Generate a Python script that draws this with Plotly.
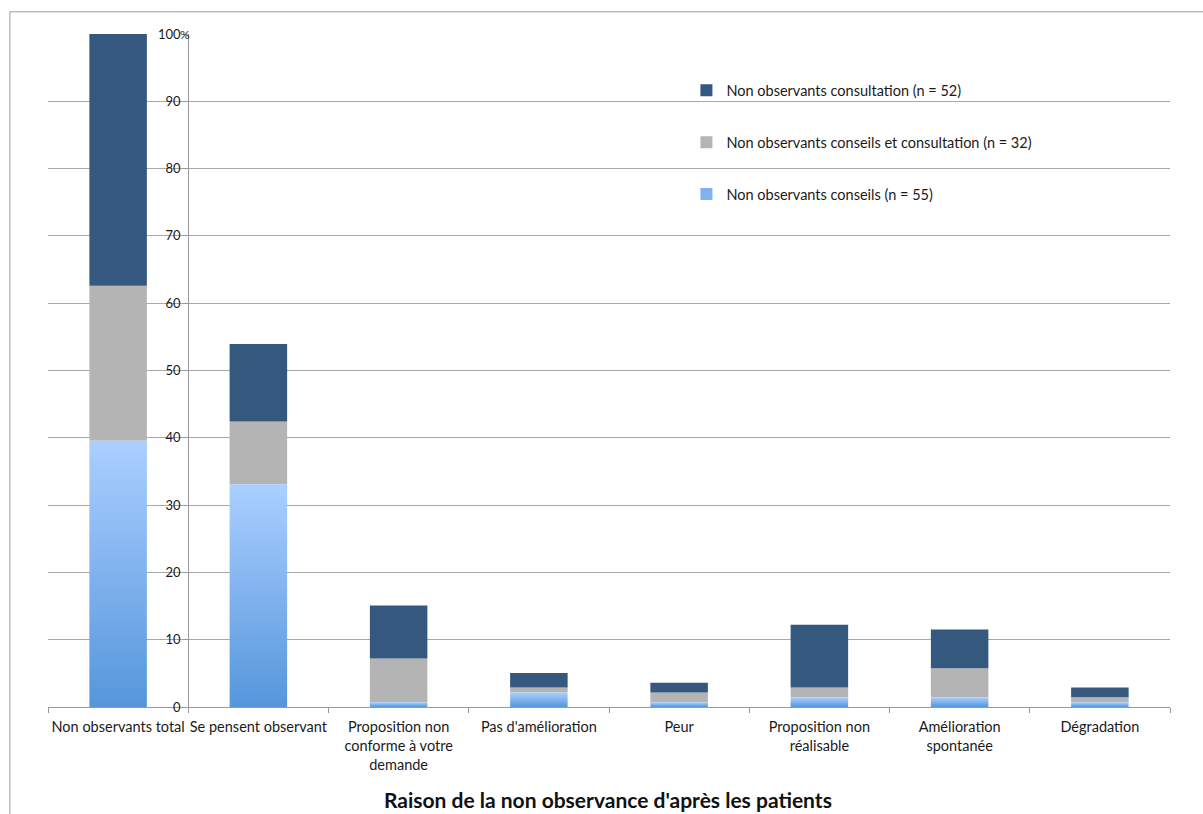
import plotly.graph_objects as go

# Reasons for non-adherence, as % of the 139 non-adherent patients
categories = [
    "Non observants total",
    "Se pensent observant",
    "Proposition non<br>conforme à votre<br>demande",
    "Pas d'amélioration",
    "Peur",
    "Proposition non<br>réalisable",
    "Amélioration<br>spontanée",
    "Dégradation",
]
conseils = [39.57, 33.09, 0.72, 2.16, 0.72, 1.44, 1.44, 0.72]
conseils_consultation = [23.02, 9.35, 6.47, 0.72, 1.44, 1.44, 4.32, 0.72]
consultation = [37.41, 11.51, 7.91, 2.16, 1.44, 9.35, 5.76, 1.44]

name_conseils = "Non observants conseils (n = 55)"
name_cc = "Non observants conseils et consultation (n = 32)"
name_consult = "Non observants consultation (n = 52)"

y_ticks = list(range(0, 101, 10))

DARK = "#34587e"
GREY = "#b4b4b4"
BLUE_LO = "#5596dc"
BLUE_HI = "#abcfff"
BLUE_MID = "#7fb2ee"
GRID = "#a8a8a8"
FONT = "Lato, 'Open Sans', sans-serif"

BAR_W = 0.41
xs = list(range(len(categories)))

fig = go.Figure()

# Bottom segment: gradient-filled rectangles, one per category
for i, v in zip(xs, conseils):
    fig.add_trace(go.Scatter(
        x=[i - BAR_W / 2, i + BAR_W / 2, i + BAR_W / 2, i - BAR_W / 2, i - BAR_W / 2],
        y=[0, 0, v, v, 0],
        mode="lines",
        line=dict(width=0, color=BLUE_LO),
        fill="toself",
        fillgradient=dict(type="vertical",
                          colorscale=[[0, BLUE_LO], [1, BLUE_HI]]),
        name=name_conseils,
        legendgroup="c",
        showlegend=False,
        hoverinfo="skip",
    ))

# Legend swatch for the gradient series (square, like the other entries)
fig.add_trace(go.Bar(
    x=[None], y=[None], width=BAR_W,
    marker=dict(color=BLUE_MID, line=dict(width=0)),
    name=name_conseils, legendgroup="c", legendrank=3,
))

base_cc = conseils
fig.add_trace(go.Bar(
    x=xs, y=conseils_consultation, base=base_cc, width=BAR_W,
    marker=dict(color=GREY, line=dict(width=0)),
    name=name_cc, legendgroup="cc", legendrank=2,
))

base_consult = [a + b for a, b in zip(conseils, conseils_consultation)]
fig.add_trace(go.Bar(
    x=xs, y=consultation, base=base_consult, width=BAR_W,
    marker=dict(color=DARK, line=dict(width=0)),
    name=name_consult, legendgroup="co", legendrank=1,
))

fig.update_layout(
    width=1203, height=814,
    margin=dict(l=48, r=33, t=34, b=107),
    paper_bgcolor="white", plot_bgcolor="white",
    barmode="overlay",
    font=dict(family=FONT, size=14.5, color="#1a1a1a"),
    showlegend=True,
    legend=dict(
        x=0.569, y=0.94, xanchor="left", yanchor="top",
        bgcolor="rgba(0,0,0,0)",
        traceorder="grouped",
        tracegroupgap=30,
        font=dict(size=14.5),
        itemwidth=30,
    ),
    xaxis=dict(
        range=[-0.5, len(categories) - 0.5],
        tickmode="array", tickvals=xs, ticktext=categories,
        ticks="", showgrid=False, zeroline=False,
        showline=True, linecolor="#999999", linewidth=1,
        minor=dict(tickmode="array",
                   tickvals=[i + 0.5 for i in range(-1, len(categories))],
                   ticks="outside", ticklen=5, tickcolor="#999999"),
        tickfont=dict(size=14.5),
        ticklabelstandoff=7,
    ),
    yaxis=dict(
        range=[0, 100],
        tickmode="array", tickvals=y_ticks,
        anchor="free", position=0.125, side="left",
        showline=True, linecolor="#999999", linewidth=1,
        ticks="outside", ticklen=5, tickcolor="#999999",
        showgrid=True, gridcolor=GRID, gridwidth=1,
        zeroline=False,
        tickfont=dict(size=13),
    ),
    shapes=[
        dict(type="rect", xref="paper", yref="paper",
             x0=-0.034, x1=1.05, y0=-0.25, y1=1.033,
             line=dict(color="#9a9a9a", width=1), fillcolor="rgba(0,0,0,0)",
             layer="below"),
    ],
    annotations=[
        dict(text="%", xref="paper", yref="y", x=0.125, y=100,
             xanchor="left", yanchor="middle", showarrow=False,
             font=dict(size=12, color="#1a1a1a"), xshift=-10),
        dict(text="<b>Raison de la non observance d'après les patients</b>",
             xref="paper", yref="paper", x=0.499, y=-0.138,
             xanchor="center", yanchor="middle", showarrow=False,
             font=dict(size=21, color="#111111")),
    ],
)

fig.write_html("out.html")
